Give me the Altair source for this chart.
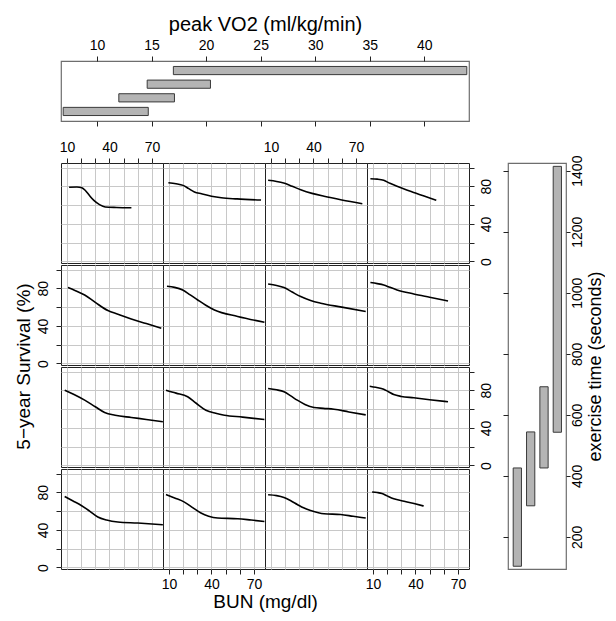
import altair as alt
import pandas as pd

FONT = "Liberation Sans"

# ---- conditioning intervals (shingles) ----
LEVELS = [1, 2, 3, 4]
VO2_LOW = [6.9, 12.0, 14.6, 17.0]
VO2_HIGH = [14.7, 17.1, 20.4, 43.9]
EXTIME_LOW = [104, 302, 426, 543]
EXTIME_HIGH = [426, 544, 692, 1414]

VO2_TICKS = [10, 15, 20, 25, 30, 35, 40]
EXTIME_TICKS = [200, 400, 600, 800, 1000, 1200, 1400]
BUN_TICKS = [10, 20, 30, 40, 50, 60, 70]
SURV_TICKS = [0, 20, 40, 60, 80, 100]

# ---- panel curves: T = exercise-time interval (1 low), V = peak VO2 interval (1 low) ----
BUN_T4_V1 = [11.5, 17, 20.5, 23, 26, 29, 33, 37, 45, 55.5]
SURV_T4_V1 = [79, 79.2, 78.5, 75.5, 70, 65, 60.5, 58, 57.5, 57.2]
BUN_T4_V2 = [9.6, 15, 20, 24, 28, 33, 40, 47, 58, 75]
SURV_T4_V2 = [83.8, 82.8, 81, 77.5, 74, 72, 69.5, 67.8, 66.6, 65.4]
BUN_T4_V3 = [8, 14, 19, 25, 31, 39, 47.5, 60, 74.5]
SURV_T4_V3 = [86.4, 85.2, 83.5, 80, 76.4, 72.5, 69.4, 65.5, 61.5]
BUN_T4_V4 = [8.2, 13, 17.6, 22, 27, 40, 54.7]
SURV_T4_V4 = [88, 87.6, 86.4, 83.2, 80, 72.8, 65.1]

BUN_T3_V1 = [10.7, 16, 22.5, 30, 38.9, 46, 55.4, 66, 76.6]
SURV_T3_V1 = [80.8, 77.5, 72.9, 65, 56.3, 52.5, 47.4, 42.5, 37.5]
BUN_T3_V2 = [8.6, 14, 19.7, 25, 30.3, 36, 42.1, 58.5, 77.4]
SURV_T3_V2 = [82.2, 81, 78.2, 73, 67.6, 62, 57, 50, 43.9]
BUN_T3_V3 = [8, 14, 19.2, 25, 31, 38, 45.1, 60, 76.9]
SURV_T3_V3 = [84.6, 83, 80.8, 76, 71.2, 67, 64.1, 60, 55.3]
BUN_T3_V4 = [8.2, 13, 17.6, 22, 27, 38.8, 50, 63]
SURV_T3_V4 = [86.1, 85, 83.6, 81, 78.3, 74, 70.5, 66.5]

BUN_T2_V1 = [8.4, 15, 22.5, 30, 36.6, 44, 55.4, 66, 77.7]
SURV_T2_V1 = [80.1, 75.5, 69.5, 62.5, 56.4, 53.5, 51.1, 49, 46.5]
BUN_T2_V2 = [7.9, 15, 23.2, 29, 36.1, 43, 49.1, 62, 77.4]
SURV_T2_V2 = [80.1, 77, 73.1, 66.5, 58.8, 55.5, 53.5, 51.5, 48.9]
BUN_T2_V3 = [8, 14, 19.2, 24, 28.6, 34, 40.4, 47, 54.5, 65, 76.9]
SURV_T2_V3 = [81.9, 80.5, 78.4, 74, 69.5, 65, 61.7, 60.8, 59.9, 57, 53.9]
BUN_T2_V4 = [7.7, 12, 17.6, 21, 24.7, 30, 38.8, 50, 63]
SURV_T2_V4 = [84.4, 83.2, 81.2, 78.5, 75.5, 73.5, 72, 70, 67.8]

BUN_T1_V1 = [8.4, 14, 20.1, 26, 31.8, 38, 45.9, 60, 77.7]
SURV_T1_V1 = [75.6, 71, 66, 60, 53.7, 50.5, 48.4, 47.3, 45.5]
BUN_T1_V2 = [7.9, 14, 20.9, 27, 32.6, 38, 44.4, 58.5, 68, 77.4]
SURV_T1_V2 = [77.7, 74, 69.6, 63.5, 57.9, 54.5, 52.6, 51.9, 50.5, 49]
BUN_T1_V3 = [8, 14, 19.2, 24, 28.6, 33, 38, 47.5, 59.2, 68, 76.9]
SURV_T1_V3 = [77.4, 76.5, 74.5, 71, 67.1, 63.5, 60.7, 57.2, 56.4, 54.5, 52.6]
BUN_T1_V4 = [9.4, 13, 16.4, 20, 24.7, 32, 39, 45.8]
SURV_T1_V4 = [80.3, 79.8, 78.8, 76.2, 73.1, 70.5, 68, 65.4]

PANELS = {
    (4, 1): (BUN_T4_V1, SURV_T4_V1), (4, 2): (BUN_T4_V2, SURV_T4_V2),
    (4, 3): (BUN_T4_V3, SURV_T4_V3), (4, 4): (BUN_T4_V4, SURV_T4_V4),
    (3, 1): (BUN_T3_V1, SURV_T3_V1), (3, 2): (BUN_T3_V2, SURV_T3_V2),
    (3, 3): (BUN_T3_V3, SURV_T3_V3), (3, 4): (BUN_T3_V4, SURV_T3_V4),
    (2, 1): (BUN_T2_V1, SURV_T2_V1), (2, 2): (BUN_T2_V2, SURV_T2_V2),
    (2, 3): (BUN_T2_V3, SURV_T2_V3), (2, 4): (BUN_T2_V4, SURV_T2_V4),
    (1, 1): (BUN_T1_V1, SURV_T1_V1), (1, 2): (BUN_T1_V2, SURV_T1_V2),
    (1, 3): (BUN_T1_V3, SURV_T1_V3), (1, 4): (BUN_T1_V4, SURV_T1_V4),
}

rows = []
for (t, v), (bx, sy) in PANELS.items():
    for i, (b, s) in enumerate(zip(bx, sy)):
        rows.append({"t": t, "v": v, "i": i, "bun": b, "surv": s})
df = pd.DataFrame(rows)

GRID = "#c8c8c8"
TICK = "#222222"
AX = dict(tickColor=TICK, tickWidth=1, labelColor="black", labelFont=FONT,
          labelFontSize=14, titleFont=FONT, titleColor="black",
          titleFontWeight="normal", gridColor=GRID, gridWidth=1, domain=False,
          labelFlush=False, labelOverlap=False)

PW, PH = 102, 100
XSCALE = alt.Scale(domain=[5.8, 77.8], nice=False, zero=False)
YSCALE = alt.Scale(domain=[-1.6, 104.8], nice=False, zero=False)
XLAB = "datum.value % 30 == 10 ? datum.label : ''"
YLAB = "datum.value % 40 == 0 ? datum.label : ''"


def panel(t, v):
    r = 4 - t
    c = v - 1
    d = df[(df.t == t) & (df.v == v)]
    if r == 0 and c in (0, 2):
        xa = alt.Axis(orient="top", values=BUN_TICKS, labelExpr=XLAB, grid=True,
                      title=None, labelPadding=4, tickSize=5, **AX)
    elif r == 3 and c in (1, 3):
        if c == 1:
            extra = dict(title="BUN (mg/dl)", titleX=PW, titleAlign="center",
                         titlePadding=1, titleFontSize=19)
        else:
            extra = dict(title=None)
        xa = alt.Axis(orient="bottom", values=BUN_TICKS, labelExpr=XLAB, grid=True,
                      labelPadding=3, tickSize=5, **extra, **AX)
    else:
        xa = alt.Axis(orient="bottom", values=BUN_TICKS, labels=False, ticks=False,
                      grid=True, title=None, **AX)
    if r in (1, 3) and c == 0:
        if r == 1:
            extra = dict(title="5\u2212year Survival (%)", titleY=PH + 1, titlePadding=3,
                         titleFontSize=19)
        else:
            extra = dict(title=None)
        ya = alt.Axis(orient="left", values=SURV_TICKS, labelExpr=YLAB, grid=True,
                      labelAngle=270, labelAlign="center", labelBaseline="bottom",
                      labelPadding=6, tickSize=5, **extra, **AX)
    elif r in (0, 2) and c == 3:
        ya = alt.Axis(orient="right", values=SURV_TICKS, labelExpr=YLAB, grid=True,
                      labelAngle=270, labelAlign="center", labelBaseline="top",
                      labelPadding=5, tickSize=5, title=None, **AX)
    else:
        ya = alt.Axis(orient="left", values=SURV_TICKS, labels=False, ticks=False,
                      grid=True, title=None, **AX)
    return alt.Chart(d).mark_line(color="black", strokeWidth=1.6, interpolate="monotone").encode(
        x=alt.X("bun:Q", scale=XSCALE, axis=xa),
        y=alt.Y("surv:Q", scale=YSCALE, axis=ya),
        order="i:Q",
    ).properties(width=PW, height=PH, view=alt.ViewBackground(stroke="#222222", strokeWidth=1))


panels = [panel(t, v) for t in (4, 3, 2, 1) for v in (1, 2, 3, 4)]
grid = alt.concat(*panels, columns=4, spacing={"row": 2, "column": 0}, bounds="flush")

BAR_FILL = "#b4b4b4"
BAR_STROKE = "#3a3a3a"
BOX = alt.ViewBackground(stroke="#6e6e6e", strokeWidth=1.2)

# ---- top shingle: peak VO2 ----
vo2 = pd.DataFrame({"lo": VO2_LOW, "hi": VO2_HIGH, "level": LEVELS})
tb = alt.Chart(vo2).transform_calculate(y0="datum.level - 0.3", y1="datum.level + 0.3")
vx = alt.Scale(domain=[6.7, 44.1], nice=False, zero=False)
vy = alt.Y("y0:Q", scale=alt.Scale(domain=[0.3, 4.7], nice=False, zero=False), axis=None)
top_a = tb.mark_rect(fill=BAR_FILL, stroke=BAR_STROKE, strokeWidth=1).encode(
    x=alt.X("lo:Q", scale=vx, axis=alt.Axis(orient="top", values=VO2_TICKS, grid=False,
                                           title="peak VO2 (ml/kg/min)", labelPadding=4,
                                           titlePadding=4, titleFontSize=20, tickSize=5,
                                           **AX)),
    x2="hi:Q", y=vy, y2="y1:Q")
top_b = tb.mark_rect(opacity=0).encode(
    x=alt.X("lo:Q", scale=vx, axis=alt.Axis(orient="bottom", values=VO2_TICKS, labels=False,
                                           grid=False, title=None, tickSize=5, **AX)),
    x2="hi:Q", y=vy, y2="y1:Q")
top = alt.layer(top_a, top_b).resolve_axis(x="independent").properties(
    width=408, height=60, view=BOX)

# ---- right shingle: exercise time ----
ext = pd.DataFrame({"lo": EXTIME_LOW, "hi": EXTIME_HIGH, "level": LEVELS})
rb = alt.Chart(ext).transform_calculate(x0="datum.level - 0.31", x1="datum.level + 0.31")
rx = alt.X("x0:Q", scale=alt.Scale(domain=[0.3, 4.65], nice=False, zero=False), axis=None)
ry = alt.Scale(domain=[95, 1425], nice=False, zero=False)
right_a = rb.mark_rect(fill=BAR_FILL, stroke=BAR_STROKE, strokeWidth=1).encode(
    x=rx, x2="x1:Q",
    y=alt.Y("lo:Q", scale=ry, axis=alt.Axis(orient="left", values=EXTIME_TICKS, labels=False,
                                           grid=False, title=None, tickSize=5, **AX)),
    y2="hi:Q")
right_b = rb.mark_rect(opacity=0).encode(
    x=rx, x2="x1:Q",
    y=alt.Y("lo:Q", scale=ry, axis=alt.Axis(orient="right", values=EXTIME_TICKS, grid=False,
                                           format="d", labelAngle=270, labelAlign="center",
                                           labelBaseline="top", labelPadding=0, tickSize=4,
                                           title="exercise time (seconds)", titleAngle=270,
                                           titleBaseline="top", titlePadding=2,
                                           titleFontSize=18, **AX)),
    y2="hi:Q")
right = alt.layer(right_a, right_b).resolve_axis(y="independent").properties(
    width=58, height=406, view=BOX)

main = alt.hconcat(grid, right, spacing=447, bounds="flush")
chart = alt.vconcat(top, main, spacing=42, bounds="flush").properties(
    padding={"left": 5, "top": 5, "right": 0, "bottom": 0}
).configure(font=FONT).configure_view(stroke="#222222")

chart.save("out.html", embed_options={"renderer": "svg", "actions": False})
